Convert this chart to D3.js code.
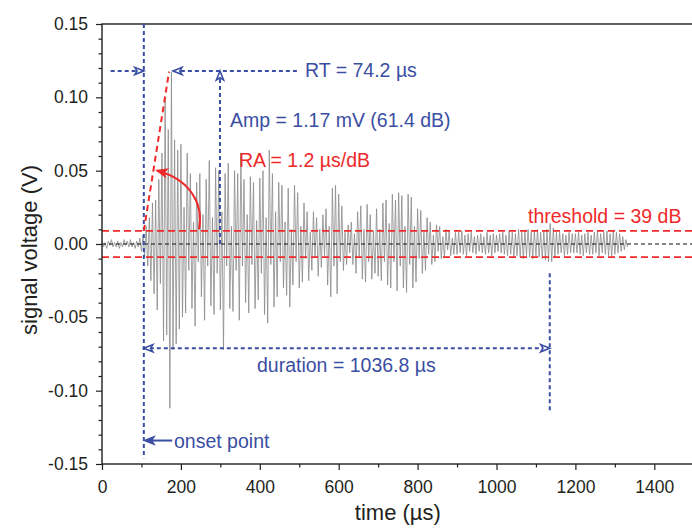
<!DOCTYPE html>
<html><head><meta charset="utf-8">
<script src="https://cdn.jsdelivr.net/npm/d3@7"></script>
<style>body{margin:0;background:#fff}text{font-family:"Liberation Sans",Arial,sans-serif}</style>
</head><body>
<script>
// ---------- data ----------
const xTicks = [0, 200, 400, 600, 800, 1000, 1200, 1400];
const xTickLabels = ["0", "200", "400", "600", "800", "1000", "1200", "1400"];
const yTicks = [-0.15, -0.10, -0.05, 0.00, 0.05, 0.10, 0.15];
const yTickLabels = ["-0.15", "-0.10", "-0.05", "0.00", "0.05", "0.10", "0.15"];
const xMinor = [100, 300, 500, 700, 900, 1100, 1300];
const xDomain = [0, 1500];
const yDomain = [-0.15, 0.15];

// waveform: alternating peak values (mV), one every waveStep µs starting at waveStart
const waveStart = 0, waveStep = 4;
const waveMv = [
  2,-2,1,-3,2,-1,3,-2,1,-2,2,-3,1,-2,3,-1,2,-2,3,-2,1,-3,2,-2,
  4,-5,6,-9,12,-15,18,-25,28,-34,30,-45,44,-27,62,-66,100,-62,78,-112,117,-72,71,-68,64,-58,
  68,-50,25,-47,62,-18,48,-44,15,-56,42,-12,48,-36,20,-52,44,-15,57,-42,18,-48,52,-20,50,
  -45,22,-72,48,-15,55,-44,12,-46,50,-18,48,-52,62,-15,44,-40,20,-47,46,-14,42,-44,16,-38,
  45,-20,50,-48,18,-54,64,-14,48,-43,22,-36,42,-12,40,-30,15,-35,38,-43,10,-28,40,-12,35,
  -30,12,-26,28,-10,22,-25,8,-18,22,-9,18,-22,10,-16,20,-8,24,-28,12,-36,38,-15,40,-34,
  34,-12,26,-18,8,-14,13,-6,15,-14,7,-20,22,-9,26,-24,10,-26,27,-12,20,-24,9,-20,24,
  -22,10,-25,28,-12,30,-28,14,-30,34,-12,30,-32,35,-15,33,-30,12,-33,34,-14,32,-30,12,-26,
  24,-10,23,-20,8,-18,18,-7,15,-14,6,-12,13,-5,12,-10,5,-9,10,-4,9,-8,4,-7,8,
  -7,8,-6,9,-7,6,-8,7,-5,8,-6,5,-7,6,-5,7,-6,5,-7,8,-6,6,-8,7,-6,
  6,-5,7,-6,8,-7,6,-8,9,-7,8,-9,7,-8,10,-9,8,-10,9,-8,10,-9,8,-10,9,
  -8,10,-9,8,-10,9,-11,10,-12,14,-12,11,-9,8,-7,8,-6,7,-8,6,-7,8,-6,7,-6,
  7,-6,8,-7,6,-8,7,-6,8,-7,6,-7,8,-6,9,-8,7,-6,8,-7,9,-8,7,-8,9,-7,8,-6,7,-5,5,-4,3,-2
];

// annotation values (µs, V)
const onsetT = 106, peakT = 180, peakV = 0.118;
const rtLeftT = 22, rtRightT = 494, ampT = 299;
const thresholdV = 0.009;
const raLine = [[106, 0.009], [170, 0.1175]];
const raCurve = [[246, 0.010], [258, 0.027], [225, 0.044], [140, 0.050]];
const durationEndT = 1135, durationV = -0.071, durEndTopV = -0.020, durEndBotV = -0.115;
const onsetLineBotV = -0.146, onsetLabelV = -0.134, onsetArrowFromT = 178;

const labels = {
  rt: "RT = 74.2 \u00b5s",
  amp: "Amp = 1.17 mV (61.4 dB)",
  ra: "RA = 1.2 \u00b5s/dB",
  thr: "threshold = 39 dB",
  dur: "duration = 1036.8 \u00b5s",
  onset: "onset point",
  xTitle: "time (\u00b5s)",
  yTitle: "signal voltage (V)"
};

// ---------- drawing ----------
const W = 692, H = 528;
const blue = "#3a4ea3", red = "#ee2a2a", ink = "#231f20";
const svg = d3.select("body").append("svg").attr("width", W).attr("height", H);
const x = d3.scaleLinear().domain(xDomain).range([102, 102 + 1500 * 0.39450]);
const y = d3.scaleLinear().domain(yDomain).range([464, 24]);

// waveform
const line = d3.line().x((d, i) => x(waveStart + i * waveStep)).y(d => y(d / 1000));
svg.append("path").datum(waveMv).attr("d", line)
  .attr("fill", "none").attr("stroke", "#8a8a8a").attr("stroke-width", 0.8)
  .attr("stroke-linejoin", "miter");

// zero line
svg.append("line").attr("x1", x(0)).attr("x2", W).attr("y1", y(0)).attr("y2", y(0))
  .attr("stroke", "#111").attr("stroke-width", 1.2).attr("stroke-dasharray", "4,3");

// threshold lines
[thresholdV, -thresholdV].forEach(v => {
  svg.append("line").attr("x1", x(0)).attr("x2", W).attr("y1", y(v)).attr("y2", y(v))
    .attr("stroke", red).attr("stroke-width", 1.8).attr("stroke-dasharray", "7,4");
});

// frame
svg.append("rect").attr("x", x(0)).attr("y", y(0.15)).attr("width", x(1500) - x(0))
  .attr("height", y(-0.15) - y(0.15)).attr("fill", "none").attr("stroke", ink).attr("stroke-width", 1.4);

// axes
const fmtY = (d) => yTickLabels[yTicks.indexOf(d)];
const fmtX = (d) => xTickLabels[xTicks.indexOf(d)];
svg.append("g").attr("transform", `translate(${x(0)},0)`)
  .call(d3.axisLeft(y).tickValues(yTicks).tickSize(6).tickPadding(8).tickFormat(fmtY));
const yMinor = d3.range(-15, 16).map(v => v / 100).filter(v => Math.abs(Math.round(v * 100)) % 5 !== 0);
svg.append("g").attr("transform", `translate(${x(0)},0)`)
  .call(d3.axisLeft(y).tickValues(yMinor).tickSize(3.5).tickFormat(""));
svg.append("g").attr("transform", `translate(0,${y(-0.15)})`)
  .call(d3.axisBottom(x).tickValues(xTicks).tickSize(6).tickPadding(11).tickFormat(fmtX));
svg.append("g").attr("transform", `translate(0,${y(-0.15)})`)
  .call(d3.axisBottom(x).tickValues(xMinor).tickSize(3.5).tickFormat(""));
svg.selectAll(".domain").remove();
svg.selectAll(".tick line").attr("stroke", ink).attr("stroke-width", 1.2);
svg.selectAll(".tick text").attr("font-size", 17.5).attr("fill", ink)
  .attr("font-family", '"Liberation Sans", Arial, sans-serif');

// axis titles
svg.append("text").attr("x", x(750)).attr("y", 520).attr("text-anchor", "middle")
  .attr("font-size", 22).attr("fill", ink).text(labels.xTitle);
svg.append("text").attr("transform", `translate(37,250) rotate(-90)`).attr("text-anchor", "middle")
  .attr("font-size", 22).attr("fill", ink).text(labels.yTitle);

// helpers
function head(px, py, ang, color, filled) {
  const L = 9, Wd = 3.6;
  const p = [[0, 0], [-L, -Wd], [-L * 0.75, 0], [-L, Wd]];
  const c = Math.cos(ang), s = Math.sin(ang);
  const pts = p.map(([a, b]) => [px + a * c - b * s, py + a * s + b * c]);
  svg.append("path").attr("d", "M" + pts.map(q => q.join(",")).join("L") + "Z")
    .attr("fill", filled ? color : "#fff").attr("stroke", color).attr("stroke-width", 1.6)
    .attr("stroke-linejoin", "miter");
}
function dash(x1, y1, x2, y2, color, w, da) {
  svg.append("line").attr("x1", x1).attr("y1", y1).attr("x2", x2).attr("y2", y2)
    .attr("stroke", color).attr("stroke-width", w).attr("stroke-dasharray", da);
}

// onset vertical
dash(x(onsetT), y(0.15), x(onsetT), y(onsetLineBotV), blue, 2, "4,3");
// RT arrows
dash(x(rtLeftT), y(peakV), x(onsetT) - 6, y(peakV), blue, 2, "4,3");
head(x(onsetT), y(peakV), 0, blue, false);
dash(x(rtRightT), y(peakV), x(peakT) + 6, y(peakV), blue, 2, "4,3");
head(x(peakT), y(peakV), Math.PI, blue, false);
// Amp arrow
dash(x(ampT), y(0), x(ampT), y(peakV) + 6, blue, 2, "4,3");
head(x(ampT), y(peakV), -Math.PI / 2, blue, false);
// RA dashed line
dash(x(raLine[0][0]), y(raLine[0][1]), x(raLine[1][0]), y(raLine[1][1]), red, 2, "6,4");
// RA curved arrow
const cp = raCurve.map(([t, v]) => [x(t), y(v)]);
svg.append("path").attr("d", `M${cp[0]}C${cp[1]} ${cp[2]} ${cp[3]}`)
  .attr("fill", "none").attr("stroke", red).attr("stroke-width", 2);
head(cp[3][0], cp[3][1], Math.atan2(cp[3][1] - cp[2][1], cp[3][0] - cp[2][0]), red, true);
// duration
dash(x(onsetT) + 6, y(durationV), x(durationEndT) - 6, y(durationV), blue, 2, "4,3");
head(x(onsetT), y(durationV), Math.PI, blue, false);
head(x(durationEndT), y(durationV), 0, blue, false);
dash(x(durationEndT), y(durEndTopV), x(durationEndT), y(durEndBotV), blue, 2, "4,3");
// onset point arrow
svg.append("line").attr("x1", x(onsetArrowFromT)).attr("x2", x(onsetT) + 6)
  .attr("y1", y(onsetLabelV)).attr("y2", y(onsetLabelV)).attr("stroke", blue).attr("stroke-width", 2);
head(x(onsetT) + 1, y(onsetLabelV), Math.PI, blue, true);

// annotation texts
const fs = 19.5;
const txt = (px, py, s, color) => svg.append("text").attr("x", px).attr("y", py)
  .attr("font-size", fs).attr("fill", color).text(s);
txt(305, 77, labels.rt, blue);
txt(230, 127, labels.amp, blue);
txt(239, 167, labels.ra, red);
txt(528, 223, labels.thr, red);
txt(257, 372, labels.dur, blue);
txt(174, 448, labels.onset, blue);
</script>
</body></html>
